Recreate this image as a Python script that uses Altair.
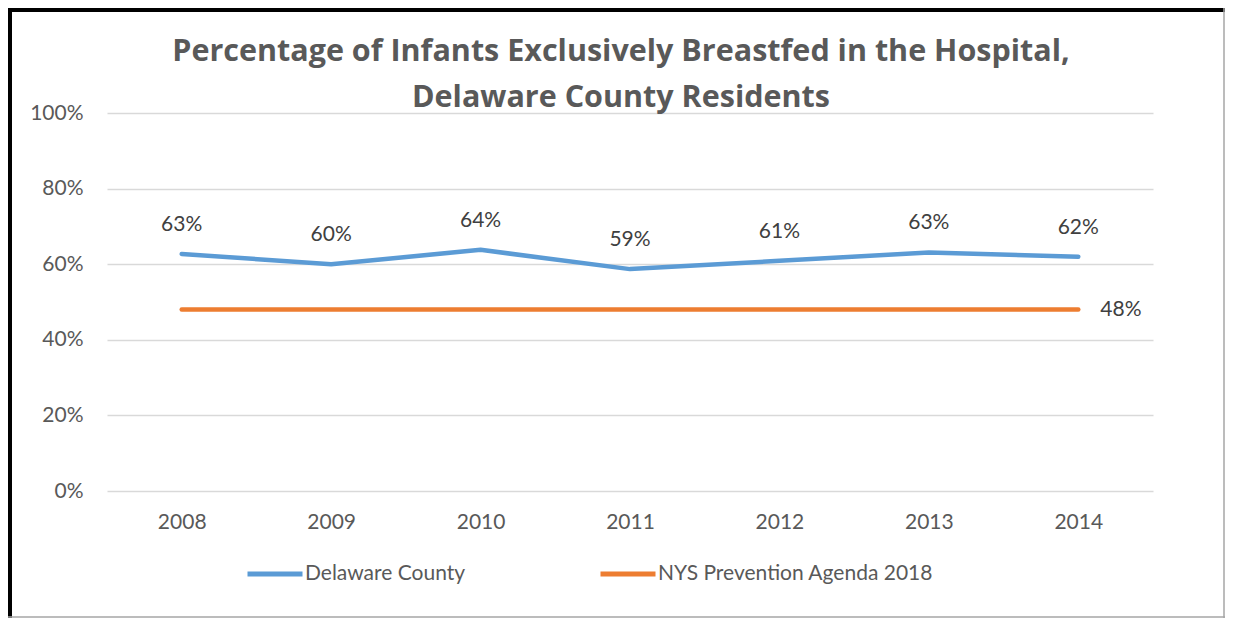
import altair as alt
import pandas as pd

years = ["2008", "2009", "2010", "2011", "2012", "2013", "2014"]
delaware = [62.7, 60.0, 63.8, 58.7, 60.9, 63.1, 62.0]
delaware_labels = ["63%", "60%", "64%", "59%", "61%", "63%", "62%"]
nys = [48, 48, 48, 48, 48, 48, 48]
nys_labels = ["", "", "", "", "", "", "48%"]
series = ["Delaware County", "NYS Prevention Agenda 2018"]
colors = ["#5B9BD5", "#ED7D31"]
y_ticks = [0, 20, 40, 60, 80, 100]

FONT = "Lato"
FS = 21
W, H = 1217, 610
PL, PT = 99, 105
PW, PH = 1046, 378

rows = []
for i, yr in enumerate(years):
    rows.append({"year": yr, "value": delaware[i], "series": series[0], "label": delaware_labels[i]})
    rows.append({"year": yr, "value": nys[i], "series": series[1], "label": nys_labels[i]})
df = pd.DataFrame(rows)

x = alt.X("year:N", sort=years, title=None,
          scale=alt.Scale(type="point", padding=0.5),
          axis=alt.Axis(labelAngle=0, labelFontSize=FS, labelColor="#595959", labelFont=FONT,
                        labelPadding=20, domain=False, ticks=False, grid=False))
y = alt.Y("value:Q", title=None,
          scale=alt.Scale(domain=[0, 100], nice=False, zero=True),
          axis=alt.Axis(values=y_ticks, labelExpr="datum.value + '%'", labelFontSize=FS,
                        labelColor="#595959", labelFont=FONT, labelPadding=24,
                        domain=False, ticks=False, grid=True, gridColor="#D9D9D9", gridWidth=1.3))

lines = alt.Chart(df).mark_line(strokeWidth=4.5, strokeCap="round", strokeJoin="round").encode(
    x=x, y=y,
    color=alt.Color("series:N", scale=alt.Scale(domain=series, range=colors),
                    legend=alt.Legend(title=None, orient="none", legendX=138, legendY=431,
                                      direction="horizontal", symbolType="stroke",
                                      symbolSize=3025, symbolStrokeWidth=5,
                                      labelFontSize=FS, labelFont=FONT, labelColor="#595959",
                                      labelOffset=0, columnPadding=124, labelLimit=400)),
)

del_labels = alt.Chart(df[df.series == series[0]]).mark_text(
    fontSize=FS, font=FONT, color="#404040", dy=-29, baseline="middle"
).encode(x=x, y=y, text="label:N")

nys_lab = alt.Chart(df[(df.series == series[1]) & (df.label != "")]).mark_text(
    fontSize=FS, font=FONT, color="#404040", dx=22, align="left", baseline="middle"
).encode(x=x, y=y, text="label:N")

frame_df = pd.DataFrame({"k": [0]})
left_border = alt.Chart(frame_df).mark_rule(color="black", strokeWidth=4).encode(
    x=alt.value(-PL + 2), y=alt.value(-PT), y2=alt.value(H - PT))
top_border = alt.Chart(frame_df).mark_rule(color="black", strokeWidth=4).encode(
    x=alt.value(-PL), x2=alt.value(W - PL), y=alt.value(-PT + 2))
right_border = alt.Chart(frame_df).mark_rule(color="#A6A6A6", strokeWidth=1.5).encode(
    x=alt.value(W - PL - 1), y=alt.value(-PT), y2=alt.value(H - PT))
bottom_border = alt.Chart(frame_df).mark_rule(color="#A6A6A6", strokeWidth=1.5).encode(
    x=alt.value(-PL), x2=alt.value(W - PL), y=alt.value(H - PT - 1))

chart = alt.layer(lines, del_labels, nys_lab, left_border, top_border, right_border, bottom_border).properties(
    width=PW, height=PH,
    autosize=alt.AutoSizeParams(type="none"),
    padding={"left": PL, "top": PT, "right": W - PL - PW, "bottom": H - PT - PH},
    title=alt.TitleParams(
        text=["Percentage of Infants Exclusively Breastfed in the Hospital,", "Delaware County Residents"],
        fontSize=30.5, font="Open Sans", fontWeight="bold", color="#595959",
        anchor="middle", dx=-9, dy=111, offset=4, lineHeight=46,
    ),
).configure_view(stroke=None)

chart.save("out.html", embed_options={"renderer": "svg", "actions": False})
